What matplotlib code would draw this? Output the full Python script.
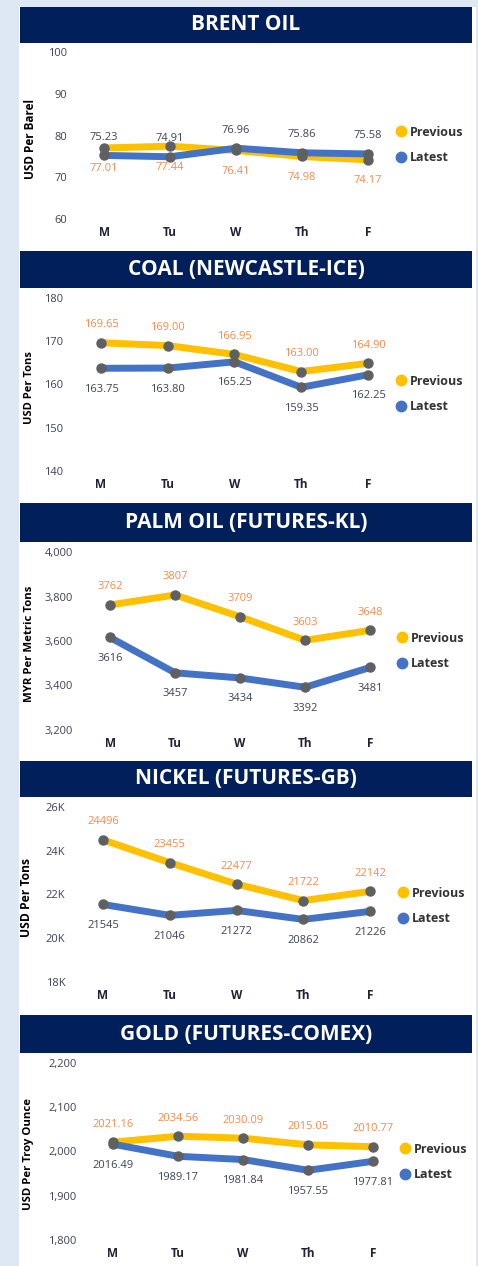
import matplotlib.pyplot as plt
from matplotlib.patches import Rectangle
from matplotlib.lines import Line2D
from matplotlib.ticker import FuncFormatter

plt.rcParams['font.family'] = ['Open Sans', 'DejaVu Sans']

W, H = 478, 1266

days = ["M", "Tu", "W", "Th", "F"]

brent_prev = [77.01, 77.44, 76.41, 74.98, 74.17]
brent_latest = [75.23, 74.91, 76.96, 75.86, 75.58]

coal_prev = [169.65, 169.00, 166.95, 163.00, 164.90]
coal_latest = [163.75, 163.80, 165.25, 159.35, 162.25]

palm_prev = [3762, 3807, 3709, 3603, 3648]
palm_latest = [3616, 3457, 3434, 3392, 3481]

nickel_prev = [24496, 23455, 22477, 21722, 22142]
nickel_latest = [21545, 21046, 21272, 20862, 21226]

gold_prev = [2021.16, 2034.56, 2030.09, 2015.05, 2010.77]
gold_latest = [2016.49, 1989.17, 1981.84, 1957.55, 1977.81]

NAVY = "#001f5b"
YELLOW = "#ffc000"
BLUE = "#4472c4"
GREY = "#5f6062"
ORANGE = "#f28b4c"
DARK = "#3c4457"
BG = "#dde8f4"


def fx(x):
    return x / W


def fy(y):
    return 1 - y / H


fig = plt.figure(figsize=(W / 100, H / 100), dpi=100)
fig.patch.set_facecolor(BG)
fig.patches.append(Rectangle((fx(19), 0), fx(476 - 19), (H - 7) / H, zorder=-10,
                             transform=fig.transFigure, facecolor="white", edgecolor="none"))

fmt_int = FuncFormatter(lambda v, p: "{:.0f}".format(v))
fmt_comma = FuncFormatter(lambda v, p: "{:,.0f}".format(v))
fmt_k = FuncFormatter(lambda v, p: "{:.0f}K".format(v / 1000))


def panel(title, ylabel, prev, latest, ylim, step, tick_fmt, lab_fmt,
          bar, xm, xf, ytop, ybot, ylab_x, ylab_size, leg_x, leg_y, swap=False):
    # title bar
    fig.patches.append(Rectangle((fx(20), fy(bar[1])), fx(472 - 20), (bar[1] - bar[0]) / H,
                                 zorder=-5, transform=fig.transFigure,
                                 facecolor=NAVY, edgecolor="none"))
    fig.text(fx(246), fy((bar[0] + bar[1]) / 2), title, color="white", fontsize=15,
             fontweight="bold", ha="center", va="center")

    dx = (xf - xm) / 4
    ax = fig.add_axes([fx(xm - dx / 2), fy(ybot), 5 * dx / W, (ybot - ytop) / H])
    ax.set_facecolor("none")
    x = range(len(days))
    ax.plot(x, prev, color=YELLOW, lw=5, marker="o", markersize=6.5,
            markerfacecolor=GREY, markeredgecolor=GREY, solid_capstyle="butt", zorder=2)
    ax.plot(x, latest, color=BLUE, lw=5, marker="o", markersize=6.5,
            markerfacecolor=GREY, markeredgecolor=GREY, solid_capstyle="butt", zorder=3)

    up, down = 18, -21
    p_off, l_off = (down, up) if swap else (up, down)
    for i in x:
        ax.annotate(lab_fmt.format(prev[i]), (i, prev[i]), xytext=(0, p_off),
                    textcoords="offset pixels", ha="center", va="center",
                    fontsize=8, color=ORANGE)
        ax.annotate(lab_fmt.format(latest[i]), (i, latest[i]), xytext=(0, l_off),
                    textcoords="offset pixels", ha="center", va="center",
                    fontsize=8, color=DARK)

    ax.set_xlim(-0.5, 4.5)
    ax.set_ylim(*ylim)
    ticks = []
    t = ylim[0]
    while t <= ylim[1]:
        ticks.append(t)
        t += step
    ax.set_yticks(ticks)
    ax.yaxis.set_major_formatter(tick_fmt)
    ax.set_xticks(list(x), days)
    ax.tick_params(axis="y", length=0, pad=3, labelsize=8, labelcolor="#3b4256")
    ax.tick_params(axis="x", length=0, pad=5, labelsize=8.5)
    for lab in ax.get_xticklabels():
        lab.set_fontweight("bold")
        lab.set_color("#1e2336")
    for s in ax.spines.values():
        s.set_visible(False)

    fig.text(fx(ylab_x), fy((ytop + ybot) / 2 + 3), ylabel, rotation=90, ha="center",
             va="center", fontsize=ylab_size, fontweight="bold", color="black")

    handles = [Line2D([], [], ls="", marker="o", markersize=7.5, color=YELLOW),
               Line2D([], [], ls="", marker="o", markersize=7.5, color=BLUE)]
    ax.legend(handles, ["Previous", "Latest"], loc="center left",
              bbox_to_anchor=(fx(leg_x - 5), fy(leg_y)), bbox_transform=fig.transFigure,
              frameon=False, handlelength=0.8, handletextpad=0.3, labelspacing=1.0,
              borderpad=0, borderaxespad=0, prop={"size": 9, "weight": "bold"},
              labelcolor="#333333")


panel("BRENT OIL", "USD Per Barel", brent_prev, brent_latest, (60, 100), 10, fmt_int,
      "{:.2f}", (7, 43), 104, 368, 52, 219, 30, 8.5, 401, 145, swap=True)
panel("COAL (NEWCASTLE-ICE)", "USD Per Tons", coal_prev, coal_latest, (140, 180), 10, fmt_int,
      "{:.2f}", (251, 288), 101, 368, 298, 471, 30, 8, 401, 394)
panel("PALM OIL (FUTURES-KL)", "MYR Per Metric Tons", palm_prev, palm_latest, (3200, 4000), 200,
      fmt_comma, "{:.0f}", (503, 542), 110, 370, 552, 730, 30, 8.2, 402, 651)
panel("NICKEL (FUTURES-GB)", "USD Per Tons", nickel_prev, nickel_latest, (18000, 26000), 2000,
      fmt_k, "{:.0f}", (761, 797), 103, 370, 807, 982, 27, 8.7, 403, 906)
panel("GOLD (FUTURES-COMEX)", "USD Per Troy Ounce", gold_prev, gold_latest, (1800, 2200), 100,
      fmt_comma, "{:.2f}", (1015, 1053), 113, 373, 1063, 1240, 28, 8.2, 405, 1162)

fig.savefig("out.png", dpi=100, facecolor=fig.get_facecolor())
